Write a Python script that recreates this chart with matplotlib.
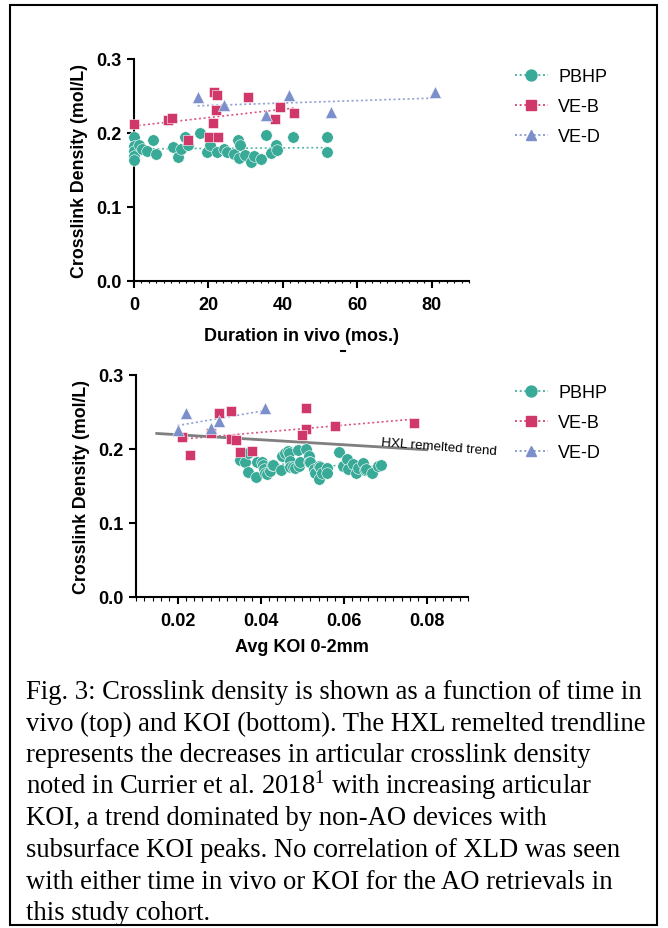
import matplotlib
matplotlib.use("Agg")
import matplotlib.pyplot as plt
from matplotlib.lines import Line2D
from matplotlib.patches import Rectangle
from matplotlib.ticker import MultipleLocator, FormatStrFormatter
import numpy as np

plt.rcParams['font.family'] = ['Liberation Sans', 'DejaVu Sans']
plt.rcParams['mathtext.fontset'] = 'custom'
plt.rcParams['mathtext.rm'] = 'Liberation Serif'

# ---- data: crosslink density vs duration in vivo (top) ----
pbhp_dur = [0, 0, 0, 0, 0, 1.3, 2.2, 3.4, 5.0, 5.8, 10.5, 11.8, 12.5, 13.7, 14.6, 17.8,
            19.7, 20.4, 22.4, 24.2, 24.9, 26.8, 28.0, 28.6, 28.3, 29.8, 31.3, 32.2, 34.1,
            35.5, 36.8, 38.2, 38.5, 42.6, 51.9, 51.9]
pbhp_dur_xld = [0.194, 0.183, 0.176, 0.169, 0.163, 0.184, 0.179, 0.176, 0.190, 0.171, 0.181,
                0.167, 0.179, 0.195, 0.184, 0.200, 0.175, 0.184, 0.175, 0.179, 0.174, 0.171,
                0.191, 0.184, 0.166, 0.170, 0.161, 0.169, 0.165, 0.197, 0.173, 0.184, 0.177,
                0.195, 0.195, 0.174]
veb_dur = [0, 9.2, 10.2, 14.6, 21.5, 22.4, 21.9, 21.3, 20.2, 22.6, 30.7, 39.3, 37.9, 43.0]
veb_dur_xld = [0.212, 0.217, 0.220, 0.191, 0.256, 0.251, 0.231, 0.214, 0.195, 0.195, 0.248,
               0.235, 0.219, 0.227]
ved_dur = [17.1, 24.3, 35.5, 41.7, 52.9, 80.8]
ved_dur_xld = [0.248, 0.238, 0.224, 0.251, 0.228, 0.256]

# ---- data: crosslink density vs avg KOI 0-2mm (bottom) ----
pbhp_koi = [0.0351, 0.0363, 0.0371, 0.0369, 0.0390, 0.0391, 0.0403, 0.0407, 0.0409, 0.0411,
            0.0415, 0.0422, 0.0427, 0.0431, 0.0449, 0.0452, 0.0459, 0.0467, 0.0468, 0.0471,
            0.0472, 0.0478, 0.0484, 0.0490, 0.0492, 0.0496, 0.0510, 0.0516, 0.0518, 0.0520,
            0.0528, 0.0532, 0.0540, 0.0542, 0.0544, 0.0548, 0.0560, 0.0561, 0.0588, 0.0598,
            0.0608, 0.0612, 0.0624, 0.0631, 0.0636, 0.0648, 0.0652, 0.0655, 0.0668, 0.0684,
            0.0690]
pbhp_koi_xld = [0.185, 0.183, 0.195, 0.169, 0.162, 0.183, 0.182, 0.179, 0.173, 0.167,
                0.166, 0.170, 0.179, 0.178, 0.172, 0.190, 0.195, 0.197, 0.194, 0.184,
                0.176, 0.176, 0.174, 0.198, 0.177, 0.182, 0.200, 0.190, 0.182, 0.183,
                0.173, 0.167, 0.160, 0.177, 0.176, 0.168, 0.175, 0.167, 0.196, 0.177,
                0.186, 0.173, 0.180, 0.167, 0.175, 0.181, 0.172, 0.173, 0.168, 0.177,
                0.178]
veb_koi = [0.021, 0.023, 0.028, 0.030, 0.033, 0.033, 0.034, 0.035, 0.038, 0.051, 0.051,
           0.050, 0.058, 0.077]
veb_koi_xld = [0.216, 0.192, 0.222, 0.249, 0.251, 0.213, 0.212, 0.196, 0.197, 0.256, 0.227,
               0.219, 0.231, 0.235]
ved_koi = [0.020, 0.022, 0.028, 0.030, 0.041]
ved_koi_xld = [0.226, 0.249, 0.229, 0.238, 0.256]

# literature trend (Currier et al. 2018)
hxl_koi = [0.015, 0.080]
hxl_xld = [0.221, 0.199]

teal = '#3aaa98'
pink = '#d0386a'
blue = '#7b8fcb'
groups = ['PBHP', 'VE-B', 'VE-D']
colors = [teal, pink, blue]
markers = ['o', 's', '^']
msizes = [8.3, 7.6, 8.0]

W, H = 668, 929
fig = plt.figure(figsize=(W / 100, H / 100), dpi=100)


def box(l, t, r, b):
    return [l / W, 1 - b / H, (r - l) / W, (b - t) / H]


ax1 = fig.add_axes(box(134, 60, 469, 282))
ax2 = fig.add_axes(box(136, 376, 468, 598))


def draw(ax, data):
    for (x, y), c, m, s in zip(data, colors, markers, msizes):
        x = np.array(x)
        y = np.array(y)
        k, b0 = np.polyfit(x, y, 1)
        xs = np.array([x.min(), x.max()])
        ax.plot(xs, k * xs + b0, color=c, lw=1.2, ls=(0, (1.2, 1.6)), alpha=0.85, zorder=2)
        ax.plot(x, y, ls='none', marker=m, ms=s, color=c, mec='white', mew=0.4,
                zorder=3, clip_on=False)


draw(ax1, [(pbhp_dur, pbhp_dur_xld), (veb_dur, veb_dur_xld), (ved_dur, ved_dur_xld)])
draw(ax2, [(pbhp_koi, pbhp_koi_xld), (veb_koi, veb_koi_xld), (ved_koi, ved_koi_xld)])
ax2.plot(hxl_koi, hxl_xld, color='#7f7f7f', lw=2.0, zorder=2.5)
ax2.text(0.0691, 0.2095, 'HXL remelted trend', fontsize=9.6, rotation=-4.5,
         ha='left', va='center', rotation_mode='anchor')

for ax in (ax1, ax2):
    ax.set_ylim(0, 0.3)
    ax.yaxis.set_major_locator(MultipleLocator(0.1))
    ax.yaxis.set_major_formatter(FormatStrFormatter('%.1f'))
    for s in ('top', 'right'):
        ax.spines[s].set_visible(False)
    for s in ('left', 'bottom'):
        ax.spines[s].set_linewidth(1.5)
    ax.tick_params(which='major', direction='out', length=5, width=1.5, labelsize=13,
                   pad=4)
    ax.tick_params(axis='x', which='major', pad=6)
    ax.tick_params(which='minor', direction='out', width=0.8)
    ax.set_ylabel('Crosslink Density (mol/L)', fontsize=12.8, fontweight='bold', labelpad=6)

ax1.set_xlim(0, 90)
ax1.xaxis.set_major_locator(MultipleLocator(20))
ax1.xaxis.set_minor_locator(MultipleLocator(2))
ax1.tick_params(axis='x', which='minor', length=1.5)
ax1.set_xlabel('Duration in vivo (mos.)', fontsize=13, fontweight='bold', labelpad=10)

ax2.set_xlim(0.01, 0.09)
ax2.set_xticks([0.02, 0.04, 0.06, 0.08])
ax2.xaxis.set_major_formatter(FormatStrFormatter('%.2f'))
ax2.xaxis.set_minor_locator(MultipleLocator(0.002))
ax2.tick_params(axis='x', which='minor', length=3)
ax2.set_xlabel('Avg KOI 0-2mm', fontsize=13, fontweight='bold', labelpad=6)
for ax in (ax1, ax2):
    for lab in ax.get_xticklabels() + ax.get_yticklabels():
        lab.set_fontweight('bold')

handles = [Line2D([], [], color=c, marker=m, ms=s * 0.95, ls=(0, (1.2, 1.6)), lw=1.2)
           for c, m, s in zip(colors, markers, msizes)]
for ax, ytop in ((ax1, 60), (ax2, 376)):
    ax.legend(handles, groups, loc='upper left', bbox_to_anchor=(506 / W, 1 - ytop / H),
              bbox_transform=fig.transFigure, frameon=False, fontsize=13,
              handlelength=1.8, handletextpad=0.6, labelspacing=0.72, borderpad=0)

# small mark under the x label in the source
fig.add_artist(Line2D([341 / W, 345 / W], [1 - 352 / H, 1 - 352 / H], color='black', lw=1.5))

caption = [
    'Fig. 3: Crosslink density is shown as a function of time in',
    'vivo (top) and KOI (bottom). The HXL remelted trendline',
    'represents the decreases in articular crosslink density',
    'noted in Currier et al. 2018$^{1}$ with increasing articular',
    'KOI, a trend dominated by non-AO devices with',
    'subsurface KOI peaks. No correlation of XLD was seen',
    'with either time in vivo or KOI for the AO retrievals in',
    'this study cohort.',
]
for i, line in enumerate(caption):
    fig.text(26 / W, 1 - (699 + 31.6 * i) / H, line, family='Liberation Serif',
             fontsize=19.2, va='baseline', ha='left')

fig.add_artist(Rectangle((10 / W, 1 - 926 / H), 647 / W, 920 / H, transform=fig.transFigure,
                         fill=False, ec='black', lw=1.5))

fig.savefig('out.png', dpi=100)
